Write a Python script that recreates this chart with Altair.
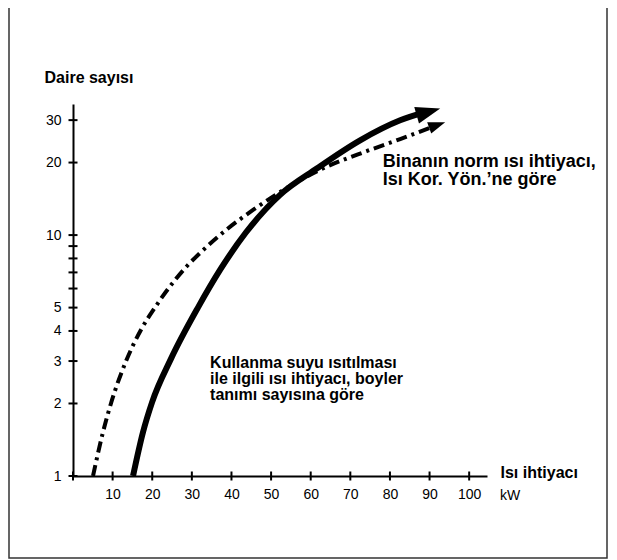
import altair as alt
import pandas as pd

# Solid curve: heat demand for domestic hot water (Daire sayısı vs kW)
solid_x = [15.15, 17.68, 19.95, 24.75, 31.57, 37.12, 43.69, 52.27, 61.62, 72.47, 82.58, 89.27]
solid_y = [1.0, 1.523, 2.022, 3.07, 5.012, 7.166, 10.27, 14.69, 18.93, 24.74, 29.95, 32.54]

# Dash-dot curve: building norm heat demand
dd_x = [5.05, 7.58, 9.6, 13.38, 17.17, 20.71, 24.49, 28.79, 32.07, 38.89, 45.45, 53.03, 62.37, 74.24, 82.58, 90.66]
dd_y = [1.0, 1.523, 2.005, 2.995, 4.047, 5.012, 6.125, 7.443, 8.427, 10.58, 12.71, 15.36, 18.66, 22.34, 25.02, 28.09]

# Arrow tips
arrow_solid = {"x": 92.68, "y": 33.56}
arrow_dd = {"x": 93.94, "y": 29.43}

x_tick_pos = [0, 10, 20, 30, 40, 50, 60, 70, 80, 90, 100]
x_labels = [10, 20, 30, 40, 50, 60, 70, 80, 90, 100]
y_tick_pos = [1, 2, 3, 4, 5, 6, 7, 8, 9, 10, 20, 30]
y_labels = [1, 2, 3, 4, 5, 10, 20, 30]

label_top = ["Binanın norm ısı ihtiyacı,", "Isı Kor. Yön.’ne göre"]
label_bottom = ["Kullanma suyu ısıtılması", "ile ilgili ısı ihtiyacı, boyler", "tanımı sayısına göre"]
top_pos = {"x": 78.2, "y": 19.1}
bottom_pos = {"x": 34.6, "y": 2.815}

FONT = "Liberation Sans"

solid_df = pd.DataFrame({"x": solid_x, "y": solid_y})
dd_df = pd.DataFrame({"x": dd_x, "y": dd_y})
xt_df = pd.DataFrame({"x": x_tick_pos, "y": [1] * len(x_tick_pos)})
yt_df = pd.DataFrame({"x": [0] * len(y_tick_pos), "y": y_tick_pos})
one = pd.DataFrame({"a": [0]})

xs = alt.Scale(domain=[0, 104.5], nice=False, zero=False)
ys = alt.Scale(type="log", domain=[1, 35], nice=False)

x_axis = alt.Axis(
    values=x_labels, ticks=False, tickSize=0, grid=False,
    domainColor="black", domainWidth=2,
    labelFont=FONT, labelFontSize=14, labelColor="black", labelPadding=11,
    labelFlush=False, labelOverlap=False,
    title="Isı ihtiyacı", titleFont=FONT, titleFontSize=16, titleFontWeight="bold",
    titleColor="black", titleX=427, titleY=1, titleAlign="left",
    titleBaseline="alphabetic", titleAngle=0,
)
y_axis = alt.Axis(
    values=y_labels, format="d", ticks=False, tickSize=0, grid=False,
    domainColor="black", domainWidth=2,
    labelFont=FONT, labelFontSize=14, labelColor="black", labelPadding=12,
    labelFlush=False, labelOverlap=False, labelBaseline="middle",
    title="Daire sayısı", titleFont=FONT, titleFontSize=16, titleFontWeight="bold",
    titleColor="black", titleX=-29, titleY=-22, titleAlign="left",
    titleBaseline="alphabetic", titleAngle=0,
)


def xy():
    return dict(
        x=alt.X("x:Q", scale=xs, axis=x_axis),
        y=alt.Y("y:Q", scale=ys, axis=y_axis),
    )


solid = alt.Chart(solid_df).mark_line(
    color="black", strokeWidth=6, interpolate="monotone", strokeCap="butt"
).encode(**xy())

dd = alt.Chart(dd_df).mark_line(
    color="black", strokeWidth=4, interpolate="monotone", strokeDash=[11, 5, 3, 5], strokeCap="butt"
).encode(**xy())

ARROW = "M0,0 L-2,-0.7 L-2,0.7 Z"
arr1 = alt.Chart(pd.DataFrame([arrow_solid])).mark_point(
    shape=ARROW, filled=True, color="black", opacity=1, size=600, angle=344
).encode(**xy())
arr2 = alt.Chart(pd.DataFrame([arrow_dd])).mark_point(
    shape=ARROW, filled=True, color="black", opacity=1, size=289, angle=340
).encode(**xy())

xticks = alt.Chart(xt_df).mark_tick(
    orient="vertical", size=9, thickness=2, color="black", opacity=1
).encode(**xy())
yticks = alt.Chart(yt_df).mark_tick(
    orient="horizontal", size=9, thickness=2, color="black", opacity=1
).encode(**xy())

t_top = alt.Chart(pd.DataFrame([top_pos])).mark_text(
    text=label_top, font=FONT, fontSize=18, fontWeight="bold", align="left",
    baseline="alphabetic", lineHeight=18, color="black"
).encode(**xy())
t_bot = alt.Chart(pd.DataFrame([bottom_pos])).mark_text(
    text=label_bottom, font=FONT, fontSize=16, fontWeight="bold", align="left",
    baseline="alphabetic", lineHeight=16, color="black"
).encode(**xy())

kw = alt.Chart(one).mark_text(
    text="kW", font=FONT, fontSize=14, align="left", baseline="alphabetic", color="black"
).encode(x=alt.value(427), y=alt.value(396))

frame = alt.Chart(one).mark_rect(
    fillOpacity=0, stroke="#333333", strokeWidth=1.5
).encode(x=alt.value(-64), x2=alt.value(534), y=alt.value(-103), y2=alt.value(454))

chart = alt.layer(dd, solid, arr1, arr2, xticks, yticks, t_top, t_bot, kw, frame).properties(
    width=414, height=372,
    autosize=alt.AutoSizeParams(type="none"),
    padding={"left": 65, "top": 96, "right": 122, "bottom": 84},
).configure(
    background="white",
    view=alt.ViewConfig(stroke="transparent", strokeWidth=0),
)

chart.save("out.html", embed_options={"renderer": "svg", "actions": False})
